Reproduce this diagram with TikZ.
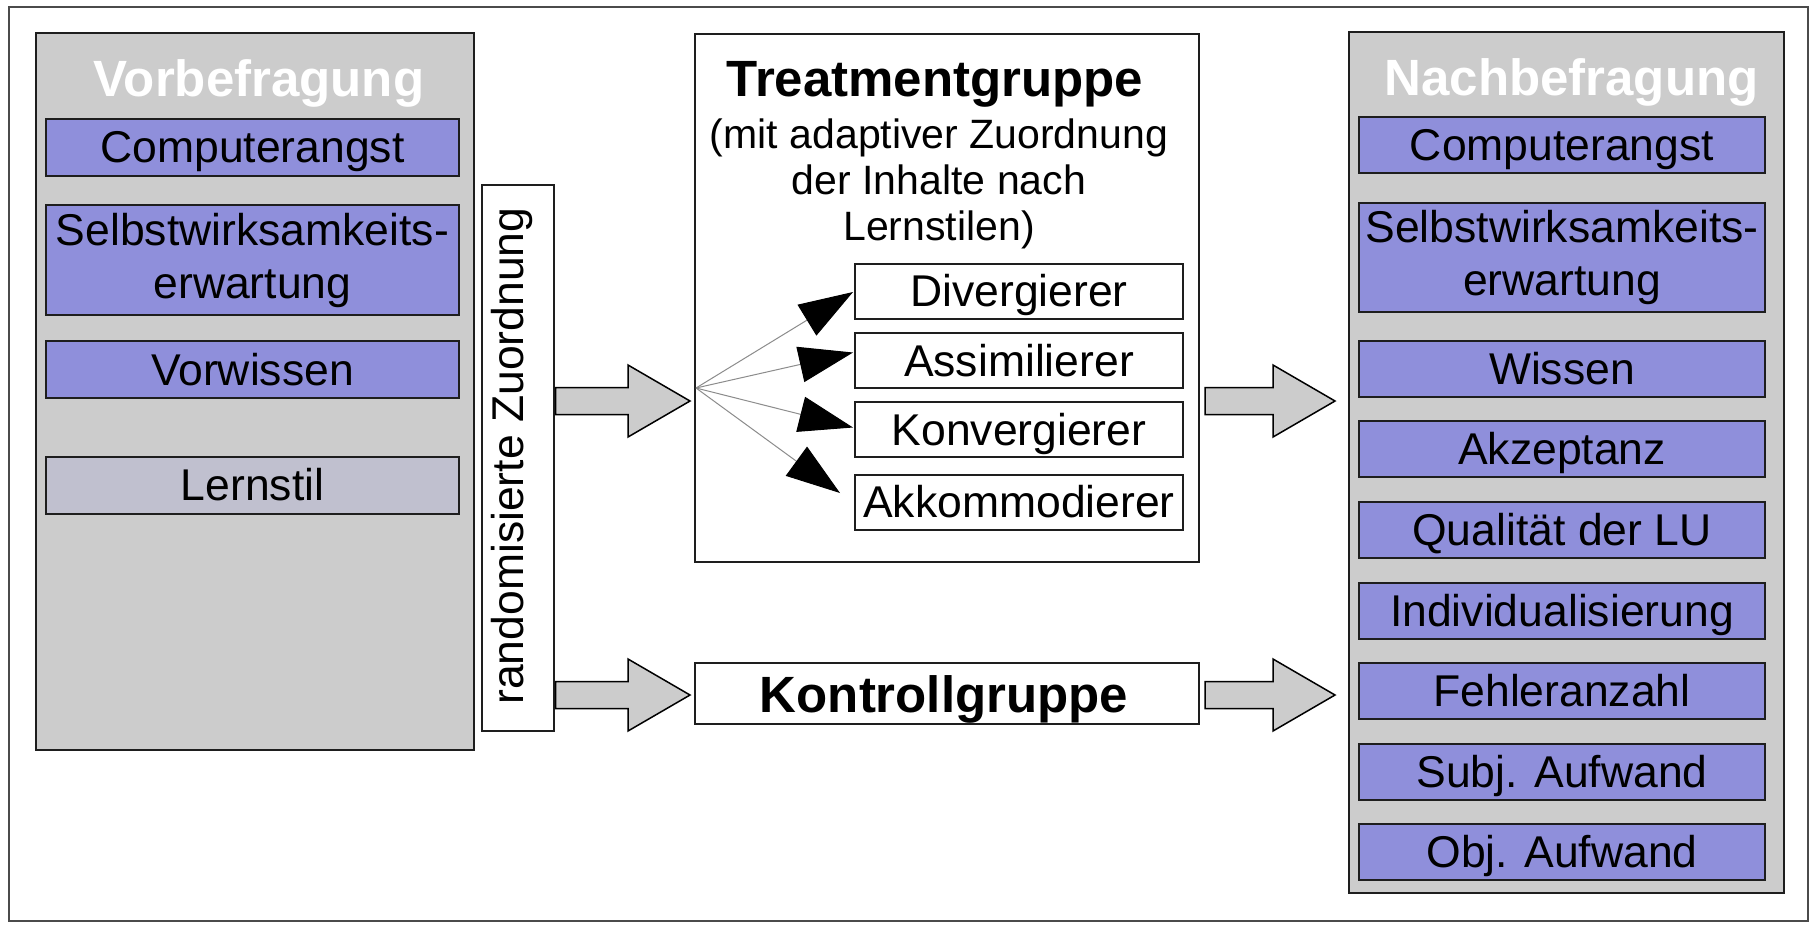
\documentclass[tikz,border=0pt]{standalone}
\usepackage{fontspec}
\setmainfont{Liberation Sans}
\usetikzlibrary{arrows.meta,calc}
\definecolor{boxblue}{RGB}{143,143,219}
\definecolor{panelgray}{RGB}{204,204,204}
\definecolor{lernc}{RGB}{192,192,207}
\definecolor{fangray}{RGB}{140,140,140}
\definecolor{edge}{RGB}{30,30,30}
\newcommand{\blockarr}[2]{%
  \draw[blockarrow] let \p1=(#1), \p2=(#2) in
    (\x1,\y1+6.75pt) -- (\x2-31pt,\y1+6.75pt) -- (\x2-31pt,\y1+18pt) -- (\x2,\y1)
    -- (\x2-31pt,\y1-18pt) -- (\x2-31pt,\y1-6.75pt) -- (\x1,\y1-6.75pt) -- cycle;}
\begin{document}
\begin{tikzpicture}[x=0.5pt,y=-0.5pt,
  panel/.style={draw=edge,line width=1pt,fill=panelgray,inner sep=0pt},
  plain/.style={draw=edge,line width=1pt,fill=white,inner sep=0pt},
  lbl/.style={font=\fontsize{22.25}{26.5}\selectfont},
  onel/.style={lbl,text height=15.9pt,text depth=0pt},
  item/.style={draw=edge,line width=1pt,fill=boxblue,inner sep=0pt,onel},
  lefti/.style={item,minimum width=206.5pt,minimum height=28.5pt},
  righti/.style={item,minimum width=203pt,minimum height=28pt},
  twol/.style={draw=edge,line width=1pt,fill=boxblue,inner sep=0pt,lbl,align=center},
  style/.style={plain,onel,minimum width=164pt,minimum height=27.5pt},
  title/.style={font=\fontsize{25.5}{30}\selectfont\bfseries,text height=18.3pt,text depth=0pt,inner sep=0pt},
  blockarrow/.style={draw=black,line width=0.75pt,fill=panelgray,line join=miter},
  fanline/.style={draw=fangray,line width=0.5pt,-{Triangle[length=27pt,width=18pt,color=black,fill=black]}}
]
\useasboundingbox (0,0) rectangle (1814,928);
\draw[draw=edge!80,line width=0.8pt] (9,7) rectangle (1808,921);

% Vorbefragung
\node[panel,minimum width=219pt,minimum height=358.5pt] (vor) at (255,391.5) {};
\node[title,text=white] (vort) at (259,78) {Vorbefragung};
\node[lefti] (vcomp) at (252.5,147) {Computerangst};
\node[twol,minimum width=206.5pt,minimum height=55pt] (vselbst) at (252.5,260) {Selbstwirksamkeits-\\erwartung};
\node[lefti] (vvorw) at (252.5,369.5) {Vorwissen};
\node[lefti,fill=lernc] (vlern) at (252.5,485) {Lernstil};

% randomisierte Zuordnung
\node[plain,minimum width=36pt,minimum height=273pt] (rand) at (517.5,458) {};
\node[lbl,rotate=90,anchor=base,inner sep=0pt] (randt) at (523,456) {randomisierte Zuordnung};

% Treatmentgruppe
\node[plain,minimum width=252pt,minimum height=264pt] (treat) at (947,298) {};
\node[title] (treatt) at (935,78) {Treatmentgruppe};
\node[font=\fontsize{20.5}{23}\selectfont,align=center,inner sep=0pt] (treats) at (939,184)
  {(mit adaptiver Zuordnung\\der Inhalte nach\\Lernstilen)};
\node[style] (div) at (1019,291) {Divergierer};
\node[style] (ass) at (1019,360.5) {Assimilierer};
\node[style] (kon) at (1019,429.5) {Konvergierer};
\node[style] (akk) at (1019,502) {Akkommodierer};
\coordinate (fan) at (696,388);
\draw[fanline] (fan) -- ($(div.west)+(-1,1)$);
\draw[fanline] (fan) -- ($(ass.west)+(-1,-8)$);
\draw[fanline] (fan) -- ($(kon.west)+(-1,-2)$);
\draw[fanline] (fan) -- ($(akk.west)+(-14,-9)$);

% Kontrollgruppe
\node[plain,title,text height=18.3pt,minimum width=252pt,minimum height=30.5pt] (kon2) at (947,693.5) {};
\node[title] (kontt) at (944,694) {Kontrollgruppe};

% Nachbefragung
\node[panel,minimum width=217.5pt,minimum height=430.5pt] (nach) at (1566.5,462.5) {};
\node[title,text=white] (nacht) at (1571.5,77) {Nachbefragung};
\node[righti] (ncomp) at (1562,145) {Computerangst};
\node[twol,minimum width=203pt,minimum height=54.5pt] (nselbst) at (1562,257.5) {Selbstwirksamkeits-\\erwartung};
\node[righti] (nwiss) at (1562,368.5) {Wissen};
\node[righti] (nakz) at (1562,448.5) {Akzeptanz};
\node[righti] (nqual) at (1562,530) {Qualität der LU};
\node[righti] (nind) at (1562,611) {Individualisierung};
\node[righti] (nfehl) at (1562,691) {Fehleranzahl};
\node[righti] (nsubj) at (1562,771.5) {Subj. Aufwand};
\node[righti] (nobj) at (1562,851.5) {Obj. Aufwand};

% block arrows
\coordinate (a1s) at ($(rand.east |- 0,401)+(1,0)$);
\coordinate (a1e) at ($(treat.west |- 0,401)+(-4,0)$);
\coordinate (a2s) at ($(rand.east |- 0,695)+(1,0)$);
\coordinate (a2e) at ($(kon2.west |- 0,695)+(-4,0)$);
\coordinate (a3s) at ($(treat.east |- 0,401)+(5,0)$);
\coordinate (a3e) at ($(nach.west |- 0,401)+(-13,0)$);
\coordinate (a4s) at ($(kon2.east |- 0,695)+(5,0)$);
\coordinate (a4e) at ($(nach.west |- 0,695)+(-13,0)$);
\blockarr{a1s}{a1e}
\blockarr{a2s}{a2e}
\blockarr{a3s}{a3e}
\blockarr{a4s}{a4e}
\end{tikzpicture}
\end{document}
